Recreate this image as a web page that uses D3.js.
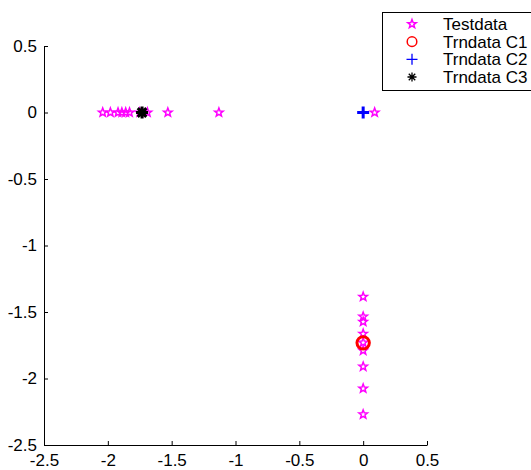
<!DOCTYPE html>
<html>
<head>
<meta charset="utf-8">
<script src="https://cdn.jsdelivr.net/npm/d3@7"></script>
<style>
  body { margin: 0; background: #fff; }
  svg { display: block; font-family: "Liberation Sans", Arial, sans-serif; }
  .axis path, .axis line { stroke: #000; stroke-width: 1; }
  .axis text { font-size: 17px; fill: #000; font-family: "Liberation Sans", Arial, sans-serif; }
</style>
</head>
<body>
<script>
//data
var testX = [-2.04, -1.98, -1.92, -1.89, -1.86, -1.83, -1.75, -1.69, -1.53, -1.13, 0.09,
             0, 0, 0, 0, 0, 0, 0, 0, 0];
var testY = [0, 0, 0, 0, 0, 0, 0, 0, 0, 0, 0,
             -1.385, -1.535, -1.573, -1.663, -1.73, -1.79, -1.91, -2.075, -2.27];
var c1X = [0], c1Y = [-1.732];
var c2X = [0], c2Y = [0];
var c3X = [-1.732], c3Y = [0];
var xTicks = [-2.5, -2, -1.5, -1, -0.5, 0, 0.5];
var yTicks = [0.5, 0, -0.5, -1, -1.5, -2, -2.5];
var legendNames = ["Testdata", "Trndata C1", "Trndata C2", "Trndata C3"];

(function(){

var width = 531, height = 470;
var plotLeft = 44, plotRight = 427, plotTop = 46, plotBottom = 445;

var svg = d3.select("body").append("svg")
    .attr("width", width)
    .attr("height", height);

var x = d3.scaleLinear().domain([-2.5, 0.5]).range([plotLeft, plotRight]);
var y = d3.scaleLinear().domain([-2.5, 0.5]).range([plotBottom, plotTop]);

//plain hyphen labels like matlab
var fmt = function(d){ return String(d); };

//axes, ticks pointing inward
svg.append("g")
    .attr("class", "axis")
    .attr("transform", "translate(0," + plotBottom + ")")
    .call(d3.axisBottom(x).tickValues(xTicks).tickSizeInner(-4).tickSizeOuter(0).tickPadding(9)
        .tickFormat(fmt));

svg.append("g")
    .attr("class", "axis")
    .attr("transform", "translate(" + plotLeft + ",0)")
    .call(d3.axisLeft(y).tickValues(yTicks).tickSizeInner(-4).tickSizeOuter(0).tickPadding(7)
        .tickFormat(fmt));

//marker drawing helpers
function starPath(cx, cy, r){
    var pts = [];
    for (var i = 0; i < 10; i++){
        var a = -Math.PI / 2 + i * Math.PI / 5;
        var rr = (i % 2 == 0) ? r : r * 0.42;
        pts.push([cx + rr * Math.cos(a), cy + rr * Math.sin(a)]);
    }
    return "M" + pts.join("L") + "Z";
}
function plusPath(cx, cy, r){
    return "M" + (cx - r) + "," + cy + "H" + (cx + r) + "M" + cx + "," + (cy - r) + "V" + (cy + r);
}
function asteriskPath(cx, cy, r){
    var d = r * 0.72;
    return plusPath(cx, cy, r) +
        "M" + (cx - d) + "," + (cy - d) + "L" + (cx + d) + "," + (cy + d) +
        "M" + (cx - d) + "," + (cy + d) + "L" + (cx + d) + "," + (cy - d);
}

var plot = svg.append("g");

//test data stars
plot.selectAll(".test")
    .data(d3.range(testX.length))
    .enter()
    .append("path")
    .attr("class", "test")
    .attr("d", function(i){ return starPath(x(testX[i]), y(testY[i]), 4.5); })
    .attr("fill", "none")
    .attr("stroke", "#ff00ff")
    .attr("stroke-width", 1.5);

//C1 circles
plot.selectAll(".c1")
    .data(d3.range(c1X.length))
    .enter()
    .append("circle")
    .attr("cx", function(i){ return x(c1X[i]); })
    .attr("cy", function(i){ return y(c1Y[i]); })
    .attr("r", 6.2)
    .attr("fill", "none")
    .attr("stroke", "#ff0000")
    .attr("stroke-width", 3);

//C2 plus
plot.selectAll(".c2")
    .data(d3.range(c2X.length))
    .enter()
    .append("path")
    .attr("d", function(i){ return plusPath(x(c2X[i]), y(c2Y[i]), 6); })
    .attr("stroke", "#0000ff")
    .attr("stroke-width", 3);

//C3 asterisk
plot.selectAll(".c3")
    .data(d3.range(c3X.length))
    .enter()
    .append("path")
    .attr("d", function(i){ return asteriskPath(x(c3X[i]), y(c3Y[i]), 6); })
    .attr("stroke", "#000")
    .attr("stroke-width", 3);

//legend
var legend = svg.append("g");
legend.append("rect")
    .attr("x", 382.5)
    .attr("y", 12.5)
    .attr("width", 160)
    .attr("height", 78)
    .attr("fill", "#fff")
    .attr("stroke", "#000");

var legendY = d3.scalePoint().domain(legendNames).range([24, 77]);
var mx = 412;

legend.append("path")
    .attr("d", starPath(mx, legendY(legendNames[0]), 4.5))
    .attr("fill", "none").attr("stroke", "#ff00ff").attr("stroke-width", 1.5);
legend.append("circle")
    .attr("cx", mx).attr("cy", legendY(legendNames[1])).attr("r", 4.8)
    .attr("fill", "none").attr("stroke", "#ff0000").attr("stroke-width", 1.5);
legend.append("path")
    .attr("d", plusPath(mx, legendY(legendNames[2]), 5.5))
    .attr("stroke", "#0000ff").attr("stroke-width", 1.3);
legend.append("path")
    .attr("d", asteriskPath(mx, legendY(legendNames[3]), 4.5))
    .attr("stroke", "#000").attr("stroke-width", 1.3);

legend.selectAll(".ltext")
    .data(legendNames)
    .enter()
    .append("text")
    .attr("x", 443)
    .attr("y", function(d){ return legendY(d); })
    .attr("dy", "0.35em")
    .attr("font-size", "17px")
    .text(function(d){ return d; });

})();
</script>
</body>
</html>
